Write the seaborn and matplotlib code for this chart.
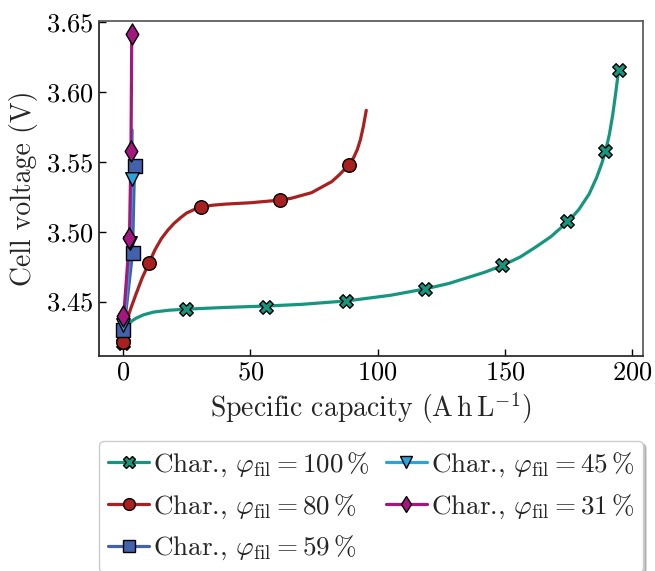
import numpy as np
import pandas as pd
import matplotlib; matplotlib.use("Agg"); import matplotlib.pyplot as plt
from matplotlib.lines import Line2D
import seaborn as sns

sns.set_theme(style="ticks")
plt.rcParams.update({"font.family": "serif", "font.serif": ["cmr10"],
                     "mathtext.fontset": "cm", "axes.formatter.use_mathtext": True,
                     "axes.unicode_minus": False})

# markers (measured points)
x100 = [0.0, 24.8, 56.2, 87.5, 118.7, 148.8, 174.5, 189.4, 194.6]
y100 = [3.420, 3.4444, 3.4464, 3.4505, 3.4592, 3.4759, 3.5078, 3.558, 3.616]
x80 = [0.0, 10.1, 30.5, 61.7, 88.7]
y80 = [3.421, 3.4773, 3.5176, 3.5227, 3.548]
x59 = [0.0, 3.7, 4.5]
y59 = [3.4297, 3.4846, 3.547]
x45 = [0.0, 2.8, 3.4]
y45 = [3.433, 3.492, 3.538]
x31 = [0.1, 2.5, 3.1, 3.4]
y31 = [3.4396, 3.4954, 3.558, 3.642]

# fitted curves
cx100 = [1.5, 3, 5, 8, 12, 18, 25, 40, 56, 70, 88, 105, 119, 128, 135, 142, 149, 156, 162,
         168, 175, 179, 183, 186, 188, 189.5, 191, 192.3, 193.5, 194.6]
cy100 = [3.432, 3.4355, 3.438, 3.4405, 3.4425, 3.4438, 3.4446, 3.4458, 3.4468, 3.448, 3.4505,
         3.4545, 3.4592, 3.463, 3.467, 3.471, 3.4759, 3.482, 3.489, 3.4965, 3.5078, 3.516,
         3.527, 3.539, 3.549, 3.558, 3.570, 3.584, 3.600, 3.616]
cx80 = [1, 3, 5, 7.5, 10.1, 12.5, 15, 17.5, 20, 22.5, 25, 28, 30.5, 35, 40, 50, 61.7, 66, 70,
        74, 78, 82, 85, 88.7, 90.5, 92, 93.2, 94.3, 95.5]
cy80 = [3.434, 3.445, 3.455, 3.467, 3.4773, 3.487, 3.495, 3.501, 3.506, 3.510, 3.5135, 3.516,
        3.5176, 3.519, 3.5198, 3.5208, 3.5227, 3.524, 3.526, 3.528, 3.532, 3.536, 3.541,
        3.548, 3.553, 3.559, 3.566, 3.575, 3.587]
cx59 = [0.5, 3.7, 4.5]
cy59 = [3.433, 3.4846, 3.548]
cx45 = [0.5, 2.8, 3.4, 3.6]
cy45 = [3.436, 3.492, 3.538, 3.573]
cx31 = [0.3, 2.5, 3.1, 3.4]
cy31 = [3.441, 3.4954, 3.558, 3.642]

series = [
    ("100", cx100, cy100, x100, y100, "#16967f", "X"),
    ("80", cx80, cy80, x80, y80, "#a8201f", "o"),
    ("59", cx59, cy59, x59, y59, "#4262ae", "s"),
    ("45", cx45, cy45, x45, y45, "#2ba3dd", "v"),
    ("31", cx31, cy31, x31, y31, "#a3177f", "d"),
]

fig = plt.figure(figsize=(6.55, 5.71), dpi=100)
ax = fig.add_axes([0.151, 0.3765, 0.830, 0.5867])
handles = {}
for name, cx, cy, mx, my, col, mk in series:
    sns.lineplot(x=cx, y=cy, ax=ax, color=col, lw=2.3, sort=False, estimator=None, legend=False,
                 solid_joinstyle="round")
    sns.scatterplot(x=mx, y=my, ax=ax, color=col, marker=mk, s=95 if mk != "d" else 115,
                    edgecolor="black", linewidth=1.0, zorder=3, legend=False)
    handles[name] = Line2D([], [], color=col, lw=2.3, marker=mk, markersize=8.5,
                           markeredgecolor="black", markeredgewidth=1.0)

ax.set_xlim(-9.5, 204)
ax.set_ylim(3.411, 3.651)
ax.set_xticks([0, 50, 100, 150, 200])
ax.set_yticks([3.45, 3.50, 3.55, 3.60, 3.65])
ax.tick_params(direction="in", labelsize=19, length=5, width=1, colors="black")
for s in ["top", "right"]:
    ax.spines[s].set_color("0.35")
ax.set_xlabel(r"Specific capacity ($\mathrm{A\,h\,L^{-1}}$)", fontsize=20, labelpad=4)
ax.set_ylabel("Cell voltage (V)", fontsize=20, labelpad=6)

order = ["100", "80", "59", "45", "31"]
labels = [r"Char., $\varphi_{\mathrm{fil}} = %s\,\%%$" % o for o in order]
leg = fig.legend([handles[o] for o in order], labels, ncol=2, fontsize=19.5,
                 loc="upper left", bbox_to_anchor=(0.151, 0.228), frameon=True,
                 fancybox=True, edgecolor="#cccccc", framealpha=1,
                 shadow={"color": "0.55", "alpha": 0.5},
                 handlelength=1.5, handletextpad=0.15,
                 columnspacing=0.6, labelspacing=0.5, borderpad=0.35, borderaxespad=0)

fig.savefig("out.png", dpi=100)
